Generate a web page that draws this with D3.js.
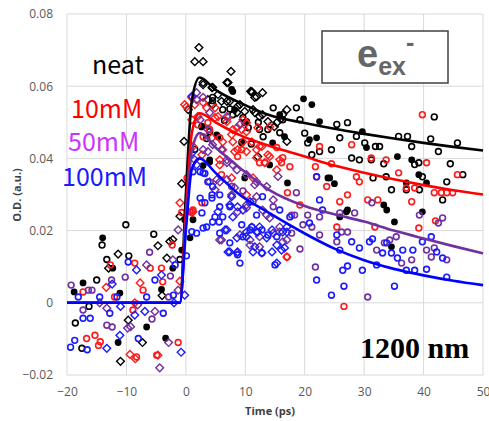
<!DOCTYPE html>
<html>
<head>
<meta charset="utf-8">
<script src="https://cdn.jsdelivr.net/npm/d3@7"></script>
<style>
  body { margin: 0; background: #fff; }
  svg { display: block; }
</style>
</head>
<body>
<div id="chart"></div>
<script>
// tick labels
const xTicks = [-20, -10, 0, 10, 20, 30, 40, 50];
const yTicks = [-0.02, 0, 0.02, 0.04, 0.06, 0.08];

// fit curves
const fitTime = [-20, -1, 0, 1, 2.3, 5, 9, 14, 20, 25, 30, 35, 40, 45, 50];
const fitNeat = [0, 0, 0.03, 0.056, 0.0624, 0.059, 0.0555, 0.052, 0.0498, 0.0482, 0.0468, 0.0455, 0.0443, 0.0432, 0.0422];
const fit10 = [0, 0, 0.025, 0.047, 0.0525, 0.050, 0.0465, 0.0435, 0.0405, 0.038, 0.036, 0.0342, 0.0326, 0.0312, 0.030];
const fit50 = [0, 0, 0.022, 0.042, 0.047, 0.043, 0.0375, 0.0313, 0.0268, 0.0245, 0.0225, 0.020, 0.0178, 0.0157, 0.0137];
const fit100 = [0, 0, 0.02, 0.037, 0.040, 0.036, 0.030, 0.0249, 0.0192, 0.0150, 0.0118, 0.0094, 0.0076, 0.0061, 0.0049];

// measured points [time, OD]
const neatDots = [[-18.8,0.003],[-17.3,0.0055],[-14,0.018],[-12.3,0.0096],[-11.4,-0.011],[-11.1,0.0027],[-6.6,-0.0067],[-4.1,0.0037],[-3.4,-0.0098],[-2.2,0.0096],[-0.7,0.0146],[-0.2,0.023],[0.7,0.018],[1.2,0.023],[2.7,0.0488],[2.9,0.038],[4,0.0396],[4,0.039],[5.2,0.0465],[5.4,0.046],[7.7,0.0591],[7.9,0.0585],[8.2,0.0535],[9.4,0.0443],[9.4,0.0446],[9.9,0.0346],[9.9,0.0499],[14.1,0.0382],[14.6,0.0443],[15.8,0.0521],[16.6,0.046],[17.1,0.0332],[19.8,0.0565],[20.8,0.0452],[21.2,0.0549],[22,0.0457],[22.5,0.0502],[23.9,0.0346],[24.2,0.0346],[25,0.033],[25.9,0.0238],[27,0.0252],[27.2,0.0257],[29.7,0.0474],[30.4,0.043],[33.3,0.0271],[33.8,0.0257],[34.6,0.0155],[35.1,0.0224],[35.6,0.0405],[37.1,0.0332],[38,0.0396],[39.2,0.0355],[39.8,0.0252],[40.5,0.0332]];
const neatCircles = [[-18.6,-0.0056],[-17.5,-0.0126],[-16.3,-0.001],[-15,0.0063],[-14.1,0.016],[-13.3,0.012],[-10.1,0.0216],[-9.6,0.013],[-5.4,0.019],[-1,0.012],[1.5,0.0425],[2.7,0.0488],[3.5,0.0455],[4,0.0474],[4.5,0.056],[4.5,0.0569],[6.2,0.0535],[6.5,0.0505],[7.4,0.0537],[7.9,0.0521],[9.6,0.0513],[10.2,0.0502],[10.5,0.0485],[11,0.044],[12.2,0.05],[12.4,0.048],[13,0.046],[13.8,0.048],[14.7,0.054],[15.8,0.0471],[16.3,0.0507],[18.6,0.054],[19.2,0.0507],[20,0.047],[20.5,0.0443],[21.2,0.041],[22.5,0.0419],[24.5,0.0424],[25.4,0.0494],[25.9,0.0457],[27.2,0.0499],[27.9,0.0401],[28.7,0.0461],[29.2,0.0396],[30.1,0.0443],[31.2,0.0396],[31.5,0.0346],[31.9,0.0433],[32.6,0.0433],[33.3,0.0385],[33.7,0.0349],[34.6,0.0313],[35.8,0.0461],[37.1,0.0313],[37.3,0.0461],[38,0.0433],[38.5,0.0383],[39.2,0.0388],[39.3,0.0313],[39.8,0.0349],[41.2,0.0454],[41.8,0.0515],[42.5,0.0419],[43.2,0.0285],[43.9,0.0335],[44.5,0.0385],[45.7,0.0443],[46.6,0.0355]];
const neatDiamonds = [[-13,0.0096],[-11.4,0.0135],[-11,-0.0162],[-9.7,-0.0048],[-7.3,-0.011],[-4.7,0.0158],[-4,0.002],[-3.2,0.0124],[-2.7,0.017],[-2.2,0.0175],[-1,0.024],[-0.7,0.033],[-0.3,0.0447],[0.4,0.0535],[1.5,0.0668],[2.2,0.0707],[2.9,0.0668],[2.9,0.061],[2.9,0.0604],[3.7,0.0563],[4.4,0.0596],[4.5,0.0597],[4.5,0.0549],[5.4,0.0577],[6,0.0558],[6.9,0.061],[6.9,0.0558],[7.1,0.061],[7.4,0.0558],[7.6,0.0641],[8.6,0.0527],[8.7,0.0544],[9.1,0.0549],[9.9,0.053],[10.9,0.0586],[11.1,0.0585],[11.1,0.0582],[11.3,0.0535],[11.6,0.0569],[11.6,0.0527],[11.9,0.0571],[12.1,0.0405],[12.4,0.0516],[12.9,0.0582],[12.9,0.0521],[13.8,0.0502],[14.9,0.0488],[15.3,0.0499],[16,0.051],[16.3,0.0521],[17,0.0535],[17,0.0447]];

const red10Circles = [[-17.3,0.003],[-16.7,-0.0099],[-15.3,-0.009],[-14.7,-0.0118],[-14.4,-0.0108],[-12.7,0.0105],[-12,0.0016],[-8.9,-0.002],[-8.6,0.011],[-8.3,-0.015],[-7.2,0.0035],[-6,0.0096],[-4.9,-0.0145],[-4.1,0.0096],[-3.9,0.0058],[-2.3,0.016],[-1.3,-0.011],[-0.7,0.025],[0.2,0.0346],[0.7,0.0252],[1.2,0.0257],[2,0.0493],[2.7,0.0277],[2.9,0.046],[3.7,0.0499],[4,0.048],[5.7,0.0457],[6,0.0355],[8.7,0.0405],[9.4,0.0424],[12.4,0.0388],[13.3,0.0388],[15.3,0.043],[16.1,0.0388],[16.3,0.0402],[17,0.0127],[17.1,0.0305],[17.5,0.0377],[19.2,0.0271],[21.8,0.0377],[22,0.0349],[22.5,0.0433],[23.7,0.0322],[24.5,0.0385],[25.4,0.021],[25.9,0.028],[26.6,-0.001],[27.2,0.0299],[27.9,0.0438],[28.7,0.0349],[29.2,0.0335],[30.6,0.0285],[31.2,0.0401],[31.8,0.021],[32.3,0.0285],[33.7,0.0396],[35.8,0.036],[37.1,0.0318],[38,0.028],[38.5,0.0318],[39.2,0.0207],[39.8,0.0521],[40.5,0.0388],[41.8,0.0305],[42,0.0227],[43,0.0305],[43.9,0.0305],[44.9,0.0305],[45.7,0.0355]];
const red10Diamonds = [[-13.4,0.0043],[-9.4,-0.0143],[-8.6,0],[-8.5,-0.0155],[-7.7,0.0055],[-4.7,-0.0145],[-1,0.006],[-1,0.0277],[-0.2,0.0549],[0.1,0.0543],[1,0.0568],[1,0.0507],[1,0.025],[1.2,0.0433],[1.2,0.0252],[1.5,0.0549],[2,0.0516],[2.7,0.041],[2.9,0.0555],[3.5,0.054],[4.4,0.0457],[4.9,0.054],[4.9,0.0513],[5.4,0.0516],[5.7,0.0382],[5.7,0.0396],[6.2,0.0446],[6.2,0.0424],[6.9,0.0502],[7.1,0.0513],[7.7,0.0466],[7.7,0.0346],[7.9,0.048],[7.9,0.0446],[8.2,0.0419],[8.6,0.0485],[8.7,0.0424],[9.4,0.048],[9.6,0.0507],[9.6,0.0446],[10.2,0.0499],[10.2,0.0474],[10.2,0.0419],[10.2,0.0299],[11.1,0.0446],[11.3,0.0346],[11.9,0.0424],[11.9,0.0402],[12.1,0.0485],[12.4,0.0433],[12.8,0.0433],[13.3,0.0388],[13.8,0.041],[14.1,0.0488],[14.1,0.0405],[15.3,0.0368],[15.8,0.0396],[17,0.0127]];

const pur50Circles = [[-19.3,0.0049],[-17.3,-0.002],[-16.4,0.0035],[-15.8,0.0035],[-13.3,-0.0062],[-12.5,0.0063],[-12.4,-0.0067],[-10.2,0.0071],[-6.1,0.014],[-5.7,-0.0045],[-2.9,0.0016],[-2.6,0.0074],[7.7,0.0322],[9.6,0.031],[11.3,0.028],[14.7,0.0266],[17.8,0.0193],[17.8,0.0243],[18.3,0.0243],[18.6,0.0305],[19.2,0.0149],[19.7,0.0216],[20.5,0.0243],[21.2,0.021],[21.8,0.0099],[22.5,0.0188],[22.5,0.0238],[25.4,0.0169],[25.9,0.0249],[26.2,0.0196],[27.2,0.0196],[28.4,0.0249],[30.6,0.0016],[31.3,0.0277],[32.1,0.0146],[33.4,0.0166],[34.3,0.0174],[35.4,0.0183],[36.3,0.011],[38,0.0119],[39.3,0.0243],[40.5,0.0146],[41.3,0.0127],[41.8,0.0152],[42.5,0.0221],[43.2,0.0235],[43.9,0.0119]];
const pur50Diamonds = [[-14.5,0],[-13.3,-0.0015],[-9.8,-0.007],[-9.3,-0.0066],[-8.1,-0.0006],[-6.6,0.0105],[-5.2,-0.0024],[-4.4,-0.018],[-2.9,-0.011],[-2.2,0.0119],[-1.3,0.0202],[-1.3,0.0035],[1.5,0.0396],[1.8,0.0563],[1.8,0.0582],[2.4,0.0507],[2.9,0.0569],[2.9,0.0424],[3.7,0.0419],[3.7,0.048],[4,0.0527],[4,0.0335],[4.5,0.0438],[4.9,0.0313],[5.2,0.0341],[5.7,0.0335],[5.7,0.0174],[6,0.0174],[6,0.0424],[6.9,0.0516],[6.9,0.0388],[6.9,0.0396],[6.9,0.0341],[7.7,0.0299],[7.9,0.0382],[8.2,0.0319],[8.6,0.0368],[8.6,0.0138],[8.7,0.0252],[9.1,0.0494],[9.1,0.0188],[10.2,0.0355],[10.2,0.0271],[10.2,0.0263],[10.8,0.0174],[10.8,0.016],[11.1,0.021],[11.6,0.0327],[11.9,0.0335],[11.9,0.0294],[12.4,0.0155],[12.4,0.0183],[12.9,0.0257],[13.6,0.0322],[13.6,0.0243],[14.1,0.0235],[14.7,0.0285],[14.7,0.0193],[15.5,0.035],[15.8,0.021],[15.8,0.0196],[16.3,0.0169],[17,0.0174]];

const blue100Circles = [[-19.4,-0.0123],[-18.7,-0.0104],[-18.1,0.0016],[-17.3,-0.0043],[-16.6,-0.013],[-16.1,-0.0043],[-14.5,0.0016],[-12.8,-0.0029],[-11.6,0.0016],[-9.7,0.0113],[-8,-0.0099],[-6.6,0.0016],[-5.2,0.0063],[-3.8,-0.0029],[-2.1,0.0021],[-1.8,0.0105],[0.1,0.013],[1,0.0197],[1.2,0.0363],[1.8,0.0193],[2.4,0.0363],[2.4,0.029],[2.7,0.0249],[2.9,0.0207],[2.9,0.036],[3.2,0.0358],[3.2,0.0277],[3.5,0.021],[3.7,0.0335],[4.4,0.029],[4.4,0.0299],[4.5,0.0322],[4.5,0.0224],[4.9,0.0238],[5.6,0.0224],[5.7,0.0299],[5.7,0.0266],[5.7,0.0193],[6.2,0.0238],[7.4,0.0266],[7.4,0.0166],[8.7,0.0133],[9.1,0.011],[9.4,0.0216],[9.6,0.0183],[10.8,0.0202],[11.1,0.021],[11.9,0.0243],[12.8,0.0202],[12.8,0.0138],[12.9,0.0294],[13.8,0.0188],[15,0.0105],[15.3,0.0183],[15.8,0.0257],[17.5,0.0238],[20.8,0.0221],[22,0.0063],[22,0.0349],[22.5,0.0285],[23,0.0257],[24.5,0.0021],[25.4,0.0188],[25.9,0.0146],[26.4,0.009],[26.6,0.0046],[27.2,0.0102],[27.9,0.0169],[29.2,0.0152],[29.7,0.009],[30.9,0.0169],[31.4,0.0177],[32.1,0.0105],[33.1,0.0138],[33.8,0.0166],[34.6,0.0138],[35.1,0.0046],[35.6,0.0124],[36.5,0.0146],[37.1,0.009],[38.2,0.0146],[38.5,0.009],[39.8,0.0169],[40.5,0.0093],[41.3,0.0183],[42.2,0.0141],[43.2,0.0124],[43.9,0.0071]];
const blue100Diamonds = [[-13.3,-0.0126],[-12.4,0.0052],[-11.1,-0.009],[-11,-0.001],[-8.6,-0.0034],[-8.3,0.0091],[-6.9,-0.0024],[-4.1,0.0077],[-2,0],[-0.8,-0.0137],[-0.2,0.0021],[1,0.0415],[1,0.0572],[1.8,0.0382],[5.4,0.0252],[6.6,0.0202],[6.9,0.0202],[7.1,0.0141],[7.4,0.0271],[7.4,0.0141],[7.7,0.0294],[7.9,0.0238],[8.6,0.018],[8.7,0.0141],[8.7,0.0266],[9.6,0.0257],[10.2,0.0196],[10.2,0.0183],[10.8,0.028],[11.3,0.0141],[11.6,0.0155],[11.9,0.0196],[12.1,0.0196],[12.4,0.021],[12.8,0.0138],[13.6,0.018],[14.5,0.0141],[14.5,0.0202],[15.3,0.016],[15.3,0.011],[16.1,0.0146],[16.3,0.0196],[16.6,0.0152],[17,0.0196],[17,0.021]];

const legendLabels = ["neat", "10mM", "50mM", "100mM"];
const legendColors = ["#000000", "#ff0000", "#cc33ff", "#1a1aff"];

const width = 489, height = 421;
const margin = { left: 67, right: 6, top: 14, bottom: 46 };

const svg = d3.select("#chart").append("svg")
  .attr("width", width)
  .attr("height", height)
  .style("font-family", "'Open Sans', 'Liberation Sans', sans-serif");

svg.append("rect").attr("width", width).attr("height", height).attr("fill", "#fff");

const x = d3.scaleLinear().domain([-20, 50]).range([margin.left, width - margin.right]);
const y = d3.scaleLinear().domain([-0.02, 0.08]).range([height - margin.bottom, margin.top]);

// grid
const grid = svg.append("g");
grid.selectAll(".vg").data(xTicks).join("line")
  .attr("x1", d => x(d)).attr("x2", d => x(d))
  .attr("y1", y(0.08)).attr("y2", y(-0.02))
  .attr("stroke", "#d9d9d9").attr("stroke-width", 1);
grid.selectAll(".hg").data(yTicks).join("line")
  .attr("x1", x(-20)).attr("x2", x(50))
  .attr("y1", d => y(d)).attr("y2", d => y(d))
  .attr("stroke", "#d9d9d9").attr("stroke-width", 1);

// axes labels
const yAxis = d3.axisLeft(y).tickValues(yTicks).tickSize(0).tickPadding(14)
  .tickFormat(d => d === 0 ? "0" : d3.format(".2f")(d));
svg.append("g").attr("transform", `translate(${margin.left},0)`).call(yAxis)
  .call(g => g.select(".domain").remove())
  .selectAll("text").attr("font-size", 12).attr("fill", "#595959")
  .attr("font-family", "'Open Sans', sans-serif");

const xAxis = d3.axisBottom(x).tickValues(xTicks).tickSize(0).tickPadding(12);
svg.append("g").attr("transform", `translate(0,${height - margin.bottom})`).call(xAxis)
  .call(g => g.select(".domain").remove())
  .selectAll("text").attr("font-size", 12).attr("fill", "#595959")
  .attr("font-family", "'Open Sans', sans-serif");

svg.append("text")
  .attr("x", 270).attr("y", 415)
  .attr("text-anchor", "middle")
  .attr("font-size", 11).attr("font-weight", "bold").attr("fill", "#404040")
  .text("Time (ps)");

svg.append("text")
  .attr("transform", `translate(21,195) rotate(-90)`)
  .attr("text-anchor", "middle")
  .attr("font-size", 11).attr("font-weight", "bold").attr("fill", "#404040")
  .text("O.D. (a.u.)");

// markers
const plot = svg.append("g");
const diamond = d3.symbol().type(d3.symbolSquare).size(30);

function drawCircles(data, color) {
  plot.append("g").selectAll("circle").data(data).join("circle")
    .attr("cx", d => x(d[0])).attr("cy", d => y(d[1]))
    .attr("r", 2.9)
    .attr("fill", "none").attr("stroke", color).attr("stroke-width", 1.6);
}
function drawDots(data, color) {
  plot.append("g").selectAll("circle").data(data).join("circle")
    .attr("cx", d => x(d[0])).attr("cy", d => y(d[1]))
    .attr("r", 3.4)
    .attr("fill", color);
}
function drawDiamonds(data, color) {
  plot.append("g").selectAll("path").data(data).join("path")
    .attr("d", diamond)
    .attr("transform", d => `translate(${x(d[0])},${y(d[1])}) rotate(45)`)
    .attr("fill", "none").attr("stroke", color).attr("stroke-width", 1.4);
}

drawDiamonds(neatDiamonds, "#000");
drawCircles(neatCircles, "#000");
drawDots(neatDots, "#000");
drawDiamonds(red10Diamonds, "#ff1a1a");
drawCircles(red10Circles, "#ff1a1a");
drawDiamonds(pur50Diamonds, "#7030a0");
drawCircles(pur50Circles, "#7030a0");
drawDiamonds(blue100Diamonds, "#1a1aff");
drawCircles(blue100Circles, "#1a1aff");

// fit lines
const fits = [
  { values: fitNeat, color: "#000000" },
  { values: fit10, color: "#ff0000" },
  { values: fit50, color: "#7030a0" },
  { values: fit100, color: "#0000ff" }
];
const line = d3.line()
  .x((d, i) => x(fitTime[i]))
  .y(d => y(d))
  .curve(d3.curveMonotoneX);
svg.append("g").selectAll("path").data(fits).join("path")
  .attr("d", d => line(d.values))
  .attr("fill", "none")
  .attr("stroke", d => d.color)
  .attr("stroke-width", 2.6);

// legend text
const legendY = [74, 118, 151, 186];
const legendX = [92, 71, 68, 62];
svg.append("g").selectAll("text").data(legendLabels).join("text")
  .attr("x", (d, i) => legendX[i]).attr("y", (d, i) => legendY[i])
  .attr("font-family", "'Noto Sans CJK JP', 'Noto Sans', sans-serif")
  .attr("font-size", 25)
  .attr("fill", (d, i) => legendColors[i])
  .text(d => d);

// e_ex- box
const box = svg.append("g");
box.append("rect")
  .attr("x", 322).attr("y", 31).attr("width", 126).attr("height", 52)
  .attr("fill", "#fff").attr("stroke", "#404040").attr("stroke-width", 1.5);
const ex = box.append("text")
  .attr("x", 357).attr("y", 67)
  .attr("font-family", "'Liberation Sans', Arial, sans-serif")
  .attr("font-weight", "bold").attr("fill", "#666");
ex.append("tspan").attr("font-size", 38).text("e");
ex.append("tspan").attr("font-size", 25).attr("dy", 8).text("ex");
ex.append("tspan").attr("font-size", 25).attr("dy", -24).text("-");

svg.append("text")
  .attr("x", 360).attr("y", 358)
  .attr("font-family", "'Liberation Serif', 'Times New Roman', serif")
  .attr("font-weight", "bold").attr("font-size", 30)
  .attr("fill", "#000")
  .text("1200 nm");
</script>
</body>
</html>
